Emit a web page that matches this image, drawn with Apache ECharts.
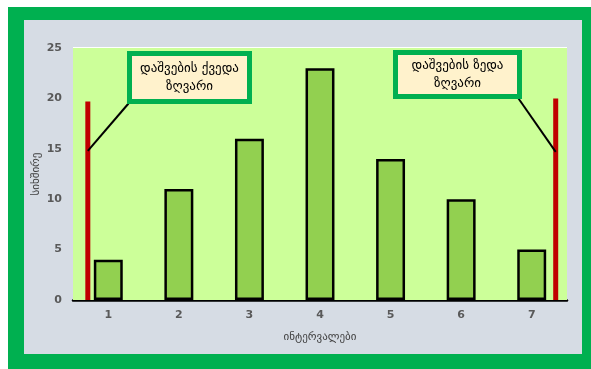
<!DOCTYPE html>
<html>
<head>
<meta charset="utf-8">
<script src="https://cdn.jsdelivr.net/npm/echarts@6/dist/echarts.min.js"></script>
<style>
  html, body { margin: 0; padding: 0; background: #ffffff; }
  #chart { width: 591px; height: 369px; }
</style>
</head>
<body>
<div id="chart"></div>
<script>
// Frequency histogram with lower / upper tolerance limits
const categories = ['1', '2', '3', '4', '5', '6', '7'];
const frequencies = [4, 11, 16, 23, 14, 10, 5];
const yTicks = { min: 0, max: 25, step: 5 };

// Tolerance limits: position on the interval scale and drawn height
const lowerLimit = { x: 0.71, top: 19.7, anchor: 14.8 };
const upperLimit = { x: 7.34, top: 20, anchor: 14.7 };

const lowerLabel = 'დაშვების ქვედა\nზღვარი';
const upperLabel = 'დაშვების ზედა\nზღვარი';
const yName = 'სიხშირე';
const xName = 'ინტერვალები';

const FONT = '"DejaVu Sans", "Noto Sans", sans-serif';
const GREEN = '#00b050';
const RED = '#c00000';

const chart = echarts.init(document.getElementById('chart'), null, { renderer: 'canvas' });

function limitLine(lim) {
  return [[lim.x, 0], [lim.x, lim.top]];
}

const option = {
  backgroundColor: '#ffffff',
  animation: false,
  textStyle: { fontFamily: FONT },
  grid: {
    left: 73, right: 24, top: 48, bottom: 69,
    show: true, backgroundColor: '#ccff99', borderWidth: 0, z: 1
  },
  xAxis: [
    {
      type: 'category',
      data: categories,
      axisLine: { show: true, lineStyle: { color: '#000000', width: 2.5 } },
      axisTick: { show: false },
      axisLabel: { color: '#595959', fontWeight: 'bold', fontSize: 11, margin: 10, fontFamily: FONT },
      name: xName,
      nameLocation: 'middle',
      nameGap: 32,
      nameMoveOverlap: false,
      nameTextStyle: { color: '#404040', fontSize: 11, fontFamily: FONT }
    },
    {
      type: 'value',
      min: 0.5, max: 7.5,
      show: false
    }
  ],
  yAxis: {
    type: 'value',
    min: yTicks.min, max: yTicks.max, interval: yTicks.step,
    axisLine: { show: false },
    axisTick: { show: false },
    axisLabel: { color: '#595959', fontWeight: 'bold', fontSize: 11, margin: 11, fontFamily: FONT },
    splitLine: { show: true, lineStyle: { color: '#ffffff', width: 2 } },
    name: yName,
    nameLocation: 'middle',
    nameGap: 31,
    nameMoveOverlap: false,
    nameTextStyle: { color: '#404040', fontSize: 11, fontFamily: FONT }
  },
  series: [
    {
      type: 'bar',
      data: frequencies,
      barWidth: '41%',
      itemStyle: { color: '#92d050', borderColor: '#000000', borderWidth: 2.5 },
      z: 3
    },
    {
      type: 'line',
      xAxisIndex: 1,
      data: limitLine(lowerLimit),
      symbol: 'none',
      lineStyle: { color: RED, width: 5 },
      z: 4
    },
    {
      type: 'line',
      xAxisIndex: 1,
      data: limitLine(upperLimit),
      symbol: 'none',
      lineStyle: { color: RED, width: 5 },
      z: 4
    }
  ]
};

chart.setOption(option);

// Callout boxes with leader lines pointing at the limit lines
function callout(box, text, lim, cornerX, cornerY) {
  const p = chart.convertToPixel({ xAxisIndex: 1, yAxisIndex: 0 }, [lim.x, lim.anchor]);
  return [
    {
      type: 'line',
      z: 10,
      shape: { x1: cornerX, y1: cornerY, x2: p[0], y2: p[1] },
      style: { stroke: '#000000', lineWidth: 2 }
    },
    {
      type: 'rect',
      z: 11,
      shape: { x: box.x, y: box.y, width: box.w, height: box.h },
      style: { fill: '#fff2cc', stroke: GREEN, lineWidth: 5 }
    },
    {
      type: 'text',
      z: 12,
      x: box.x + box.w / 2,
      y: box.y + box.h / 2,
      style: {
        text: text,
        fill: '#000000',
        font: '13px ' + FONT,
        align: 'center',
        verticalAlign: 'middle',
        lineHeight: 18
      }
    }
  ];
}

const lowBox = { x: 129.5, y: 53.5, w: 120, h: 48 };
const upBox = { x: 395.5, y: 52.5, w: 124, h: 44 };

chart.setOption({
  graphic: [
    // outer green frame and grey panel
    { type: 'rect', z: -10, silent: true, shape: { x: 8, y: 7, width: 583, height: 362 }, style: { fill: GREEN } },
    { type: 'rect', z: -9, silent: true, shape: { x: 24, y: 20, width: 558, height: 334 }, style: { fill: '#d6dce4' } }
  ].concat(
    callout(lowBox, lowerLabel, lowerLimit, lowBox.x - 1, lowBox.y + lowBox.h + 2),
    callout(upBox, upperLabel, upperLimit, upBox.x + upBox.w - 1, upBox.y + upBox.h + 2)
  )
});
</script>
</body>
</html>
